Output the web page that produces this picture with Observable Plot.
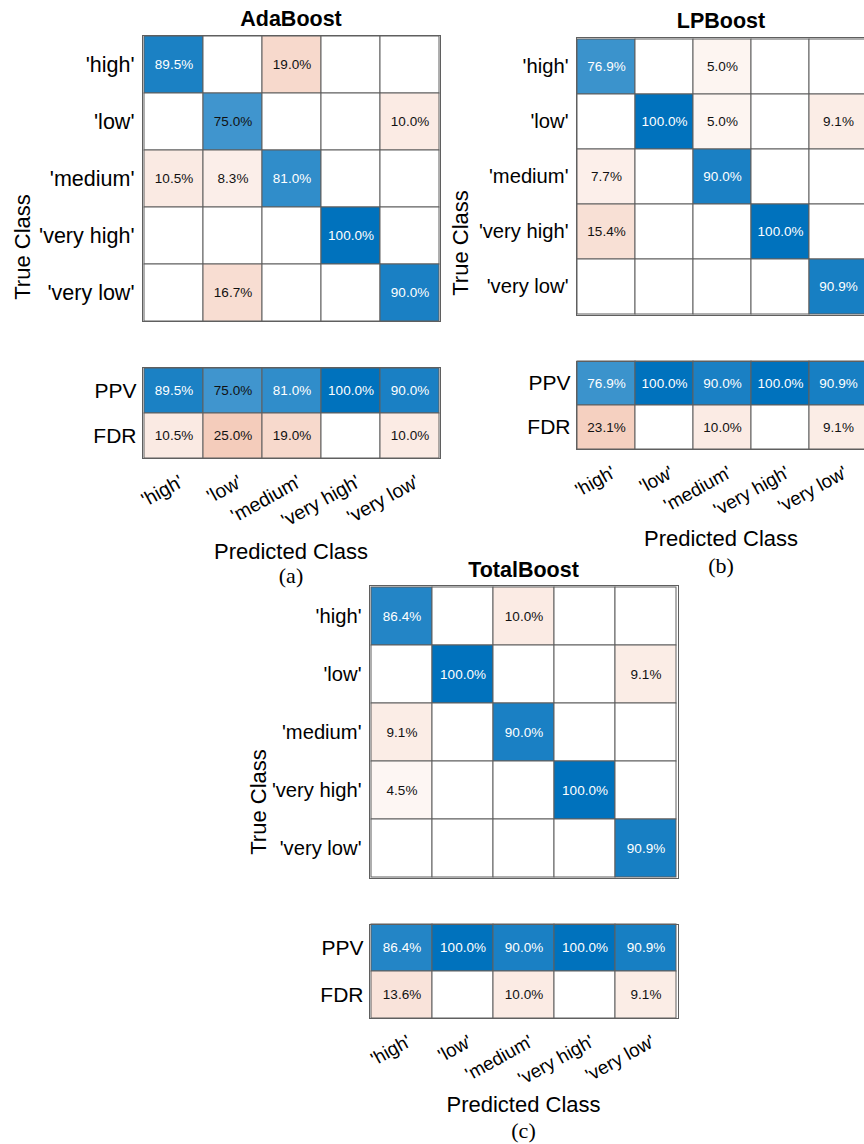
<!DOCTYPE html>
<html><head><meta charset="utf-8">
<script src="https://cdn.jsdelivr.net/npm/d3@7"></script>
<script src="https://cdn.jsdelivr.net/npm/@observablehq/plot@0.6"></script>
<style>
html,body{margin:0;padding:0;background:#fff;overflow:hidden}
#root{position:relative;width:864px;height:1144px;overflow:hidden;font-family:"Liberation Sans",Arial,sans-serif;color:#000}
.abs{position:absolute;white-space:nowrap;line-height:1.15}
.title{font-weight:bold;font-size:21.5px;transform:translate(-50%,-50%)}
.xlab{font-size:22px;transform:translate(-50%,-50%)}
.ylab{font-size:22px;transform:translate(-50%,-50%) rotate(-90deg)}
.sub{font-family:"Liberation Serif","Times New Roman",serif;font-size:22px;line-height:1;transform:translate(-50%,-50%)}
svg{position:absolute;overflow:visible}
</style></head><body><div id="root"></div>
<script>
// ---- data ----
const classes = ["'high'", "'low'", "'medium'", "'very high'", "'very low'"];
const summaryRows = ["PPV", "FDR"];

const adaTitle = "AdaBoost";
const adaMatrix = [
  [89.5, 0, 19.0, 0, 0],
  [0, 75.0, 0, 0, 10.0],
  [10.5, 8.3, 81.0, 0, 0],
  [0, 0, 0, 100.0, 0],
  [0, 16.7, 0, 0, 90.0]
];
const adaPPV = [89.5, 75.0, 81.0, 100.0, 90.0];
const adaFDR = [10.5, 25.0, 19.0, 0, 10.0];

const lpTitle = "LPBoost";
const lpMatrix = [
  [76.9, 0, 5.0, 0, 0],
  [0, 100.0, 5.0, 0, 9.1],
  [7.7, 0, 90.0, 0, 0],
  [15.4, 0, 0, 100.0, 0],
  [0, 0, 0, 0, 90.9]
];
const lpPPV = [76.9, 100.0, 90.0, 100.0, 90.9];
const lpFDR = [23.1, 0, 10.0, 0, 9.1];

const totalTitle = "TotalBoost";
const totalMatrix = [
  [86.4, 0, 10.0, 0, 0],
  [0, 100.0, 0, 0, 9.1],
  [9.1, 0, 90.0, 0, 0],
  [4.5, 0, 0, 100.0, 0],
  [0, 0, 0, 0, 90.9]
];
const totalPPV = [86.4, 100.0, 90.0, 100.0, 90.9];
const totalFDR = [13.6, 0, 10.0, 0, 9.1];

// ---- layout ----
const panels = [
  {title: adaTitle, matrix: adaMatrix, ppv: adaPPV, fdr: adaFDR, sub: "(a)", fs: 21.5, xfs: 19.5,
   L: 142, R: 440, mTop: 35, mBot: 321, sTop: 367, sBot: 458, cx: 291, titleY: 19, ylabX: 23, xlabY: 552, subY: 576},
  {title: lpTitle, matrix: lpMatrix, ppv: lpPPV, fdr: lpFDR, sub: "(b)", fs: 20.2, xfs: 18.8,
   L: 576, R: 868, mTop: 37, mBot: 315, sTop: 361, sBot: 449, cx: 721, titleY: 20.5, ylabX: 460.5, xlabY: 539, subY: 566},
  {title: totalTitle, matrix: totalMatrix, ppv: totalPPV, fdr: totalFDR, sub: "(c)", fs: 20.2, xfs: 18.8,
   L: 369, R: 678, mTop: 585, mBot: 878, sTop: 924, sBot: 1018, cx: 523.5, titleY: 569.5, ylabX: 259, xlabY: 1105, subY: 1131}
];

const FONT = "'Liberation Sans', Arial, sans-serif";
const colorOpts = {type: "linear", domain: [-85, 0, 100], range: ["rgb(217,83,25)", "white", "rgb(0,114,189)"], clamp: true, interpolate: "rgb"};
const GRID = "#5f5f5f";
const root = document.getElementById("root");

function addText(cls, txt, x, y) {
  const d = document.createElement("div");
  d.className = "abs " + cls;
  d.textContent = txt;
  d.style.left = x + "px";
  d.style.top = y + "px";
  root.appendChild(d);
}

function place(svg, left, top) {
  svg.style.left = left + "px";
  svg.style.top = top + "px";
  root.appendChild(svg);
}

const isWhite = d => d.sign > 0 && d.v > 76;

for (const p of panels) {
  const ml = 140;
  const w = p.R - p.L;
  // main matrix
  const cells = [];
  p.matrix.forEach((row, i) => row.forEach((v, j) => cells.push({t: classes[i], c: classes[j], v, sign: i === j ? 1 : -1})));
  const m = Plot.plot({
    width: ml + w + 1, height: (p.mBot - p.mTop) + 2,
    marginLeft: ml, marginRight: 1, marginTop: 1, marginBottom: 1,
    x: {domain: classes, padding: 0, axis: null},
    y: {domain: classes, padding: 0, axis: null},
    color: colorOpts,
    style: {fontFamily: FONT, color: "#000", background: "transparent", overflow: "visible"},
    marks: [
      Plot.cell(cells, {x: "c", y: "t", fill: d => d.sign * d.v, stroke: GRID, strokeWidth: 1}),
      Plot.text(cells.filter(d => d.v > 0 && isWhite(d)), {x: "c", y: "t", text: d => d.v.toFixed(1) + "%", fill: "white", fontSize: 13.5}),
      Plot.text(cells.filter(d => d.v > 0 && !isWhite(d)), {x: "c", y: "t", text: d => d.v.toFixed(1) + "%", fill: "#111", fontSize: 13.5}),
      Plot.axisY({tickSize: 0, tickPadding: 8, fontSize: p.fs, label: null}),
      Plot.frame({stroke: GRID})
    ]
  });
  place(m, p.L - ml, p.mTop - 1);

  // summary rows
  const srows = [];
  p.ppv.forEach((v, j) => srows.push({r: "PPV", c: classes[j], v, sign: 1}));
  p.fdr.forEach((v, j) => srows.push({r: "FDR", c: classes[j], v, sign: -1}));
  const mb = 110;
  const s = Plot.plot({
    width: ml + w + 1, height: (p.sBot - p.sTop) + 1 + mb,
    marginLeft: ml, marginRight: 1, marginTop: 1, marginBottom: mb,
    x: {domain: classes, padding: 0},
    y: {domain: summaryRows, padding: 0},
    color: colorOpts,
    style: {fontFamily: FONT, color: "#000", background: "transparent", overflow: "visible"},
    marks: [
      Plot.cell(srows, {x: "c", y: "r", fill: d => d.sign * d.v, stroke: GRID, strokeWidth: 1}),
      Plot.text(srows.filter(d => d.v > 0 && isWhite(d)), {x: "c", y: "r", text: d => d.v.toFixed(1) + "%", fill: "white", fontSize: 13.5}),
      Plot.text(srows.filter(d => d.v > 0 && !isWhite(d)), {x: "c", y: "r", text: d => d.v.toFixed(1) + "%", fill: "#111", fontSize: 13.5}),
      Plot.axisY({tickSize: 0, tickPadding: 6, fontSize: 21, label: null}),
      Plot.axisX({anchor: "bottom", tickSize: 0, tickPadding: 15, tickRotate: -29, textAnchor: "end", lineAnchor: "top", dx: 4, fontSize: p.xfs, label: null}),
      Plot.frame({stroke: GRID})
    ]
  });
  place(s, p.L - ml, p.sTop - 1);

  addText("title", p.title, p.cx, p.titleY);
  addText("ylab", "True Class", p.ylabX, (p.mTop + p.sBot) / 2);
  addText("xlab", "Predicted Class", p.cx, p.xlabY);
  addText("sub", p.sub, p.cx, p.subY);
}
</script>
</body></html>
